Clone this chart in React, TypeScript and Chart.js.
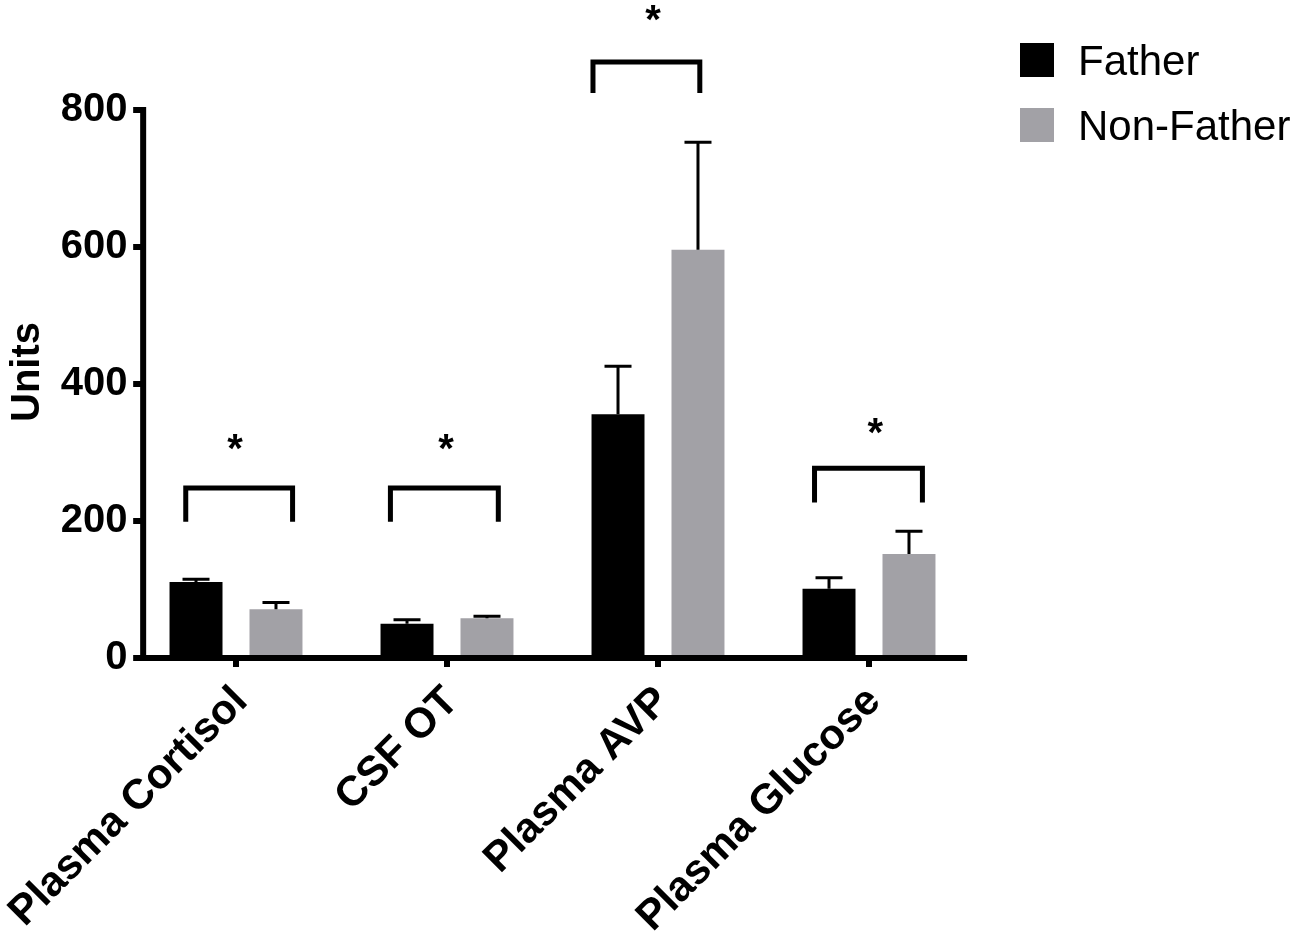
import { useEffect, useRef } from 'react'
import { Chart, registerables } from 'chart.js'

Chart.register(...registerables)

const categories = ['Plasma Cortisol', 'CSF OT', 'Plasma AVP', 'Plasma Glucose']
const fatherMeans = [111, 50, 356, 101]
const fatherErrors = [4, 6, 70, 16]
const nonFatherMeans = [71, 58, 596, 152]
const nonFatherErrors = [10, 3, 157, 33]
const yTicks = [0, 200, 400, 600, 800]
const yTitle = 'Units'

// significance brackets (values in axis units, x in category units around each group)
const bracketTops = [248, 248, 870, 277]
const bracketFeet = [199, 199, 825, 227]
const starValues = [314, 314, 939, 337]
const bracketFrom = [-0.25, -0.28, -0.32, -0.27]
const bracketTo = [0.28, 0.255, 0.21, 0.265]
const starShift = [-0.005, -0.005, -0.024, 0.03]

const FONT = "'Liberation Sans', Arial, Helvetica, sans-serif"
const BLACK = '#000000'
const GREY = '#a2a1a6'

// drawn axis frame, in category units from first / last group
const AXIS_LEFT = -0.44
const AXIS_RIGHT = 0.465

const errorBars = {
  id: 'errorBars',
  afterDatasetsDraw(chart: any) {
    const { ctx } = chart
    const y = chart.scales.y
    const errs = [fatherErrors, nonFatherErrors]
    chart.data.datasets.forEach((ds: any, di: number) => {
      const meta = chart.getDatasetMeta(di)
      meta.data.forEach((bar: any, i: number) => {
        const top = y.getPixelForValue(ds.data[i] + errs[di][i])
        ctx.save()
        ctx.strokeStyle = BLACK
        ctx.lineWidth = 3
        ctx.beginPath()
        ctx.moveTo(bar.x, bar.y)
        ctx.lineTo(bar.x, top)
        ctx.moveTo(bar.x - 13.5, top)
        ctx.lineTo(bar.x + 13.5, top)
        ctx.stroke()
        ctx.restore()
      })
    })
  },
}

const frame = {
  id: 'frame',
  afterDraw(chart: any) {
    const { ctx } = chart
    const x = chart.scales.x
    const y = chart.scales.y
    const step = x.getPixelForValue(1) - x.getPixelForValue(0)
    const axisX = x.getPixelForValue(0) + AXIS_LEFT * step
    const axisEnd = x.getPixelForValue(categories.length - 1) + AXIS_RIGHT * step
    const y0 = y.getPixelForValue(0)
    const yTop = y.getPixelForValue(yTicks[yTicks.length - 1])
    ctx.save()
    ctx.fillStyle = BLACK
    ctx.fillRect(axisX - 3, yTop - 3, 6, y0 + 3 - (yTop - 3))
    ctx.fillRect(axisX - 3, y0 - 3, axisEnd - axisX + 3, 6)
    yTicks.forEach((v) => {
      const py = y.getPixelForValue(v)
      ctx.fillRect(axisX - 10, py - 3, 10, 6)
    })
    categories.forEach((_, i) => {
      const px = x.getPixelForValue(i)
      ctx.fillRect(px - 3, y0, 6, 9)
    })

    // y axis title
    ctx.save()
    ctx.translate(28, (y0 + yTop) / 2 - 12)
    ctx.rotate(-Math.PI / 2)
    ctx.font = `bold 40px ${FONT}`
    ctx.textAlign = 'center'
    ctx.textBaseline = 'middle'
    ctx.fillText(yTitle, 0, 0)
    ctx.restore()

    // brackets and stars
    ctx.strokeStyle = BLACK
    ctx.lineWidth = 5
    ctx.lineJoin = 'miter'
    categories.forEach((_, i) => {
      const cx = x.getPixelForValue(i)
      const x1 = cx + bracketFrom[i] * step + 2.5
      const x2 = cx + bracketTo[i] * step - 2.5
      const top = y.getPixelForValue(bracketTops[i])
      const foot = y.getPixelForValue(bracketFeet[i])
      ctx.beginPath()
      ctx.moveTo(x1, foot)
      ctx.lineTo(x1, top)
      ctx.lineTo(x2, top)
      ctx.lineTo(x2, foot)
      ctx.stroke()
      ctx.font = `bold 40px ${FONT}`
      ctx.textAlign = 'center'
      ctx.textBaseline = 'alphabetic'
      ctx.fillText('*', cx + starShift[i] * step, y.getPixelForValue(starValues[i]) + 0.465 * 40)
    })

    // legend
    ctx.font = `42px ${FONT}`
    ctx.textAlign = 'left'
    chart.data.datasets.forEach((ds: any, di: number) => {
      const top = 43 + di * 65
      ctx.fillStyle = ds.backgroundColor
      ctx.fillRect(1020, top, 34, 34)
      ctx.fillStyle = BLACK
      ctx.fillText(ds.label, 1078, top + 32)
    })
    ctx.restore()
  },
}

export default function App() {
  const chartRef = useRef<HTMLCanvasElement>(null)

  useEffect(() => {
    document.body.style.margin = '0'
    if (!chartRef.current) return

    const chart = new Chart(chartRef.current, {
      type: 'bar',
      data: {
        labels: categories,
        datasets: [
          {
            label: 'Father',
            data: fatherMeans,
            backgroundColor: BLACK,
            categoryPercentage: 0.758,
            barPercentage: 0.6625,
          },
          {
            label: 'Non-Father',
            data: nonFatherMeans,
            backgroundColor: GREY,
            categoryPercentage: 0.758,
            barPercentage: 0.6625,
          },
        ],
      },
      options: {
        responsive: false,
        animation: false,
        events: [],
        layout: { padding: { top: 110, right: 325.5, bottom: 0, left: 0 } },
        plugins: {
          legend: { display: false },
          tooltip: { enabled: false },
        },
        scales: {
          x: {
            grid: { display: false, drawTicks: false },
            border: { display: false },
            ticks: {
              color: BLACK,
              font: { family: FONT, size: 42, weight: 'bold' },
              minRotation: 45,
              maxRotation: 45,
              autoSkip: false,
              padding: 19,
              labelOffset: 5,
            },
            afterFit: (scale: any) => {
              scale.height = 286
              scale.paddingLeft = 0
              scale.paddingRight = 0
            },
          },
          y: {
            min: 0,
            max: 800,
            grid: { display: false, drawTicks: false },
            border: { display: false },
            afterBuildTicks: (scale: any) => {
              scale.ticks = yTicks.map((v) => ({ value: v }))
            },
            ticks: {
              color: BLACK,
              font: { family: FONT, size: 40, weight: 'bold' },
              padding: 3,
            },
            afterFit: (scale: any) => {
              scale.width = 130.5
              scale.paddingTop = 0
              scale.paddingBottom = 0
            },
          },
        },
      },
      plugins: [errorBars, frame],
    })

    return () => chart.destroy()
  }, [])

  return (
    <div style={{ width: 1300, height: 944 }}>
      <canvas ref={chartRef} width={1300} height={944} />
    </div>
  )
}
